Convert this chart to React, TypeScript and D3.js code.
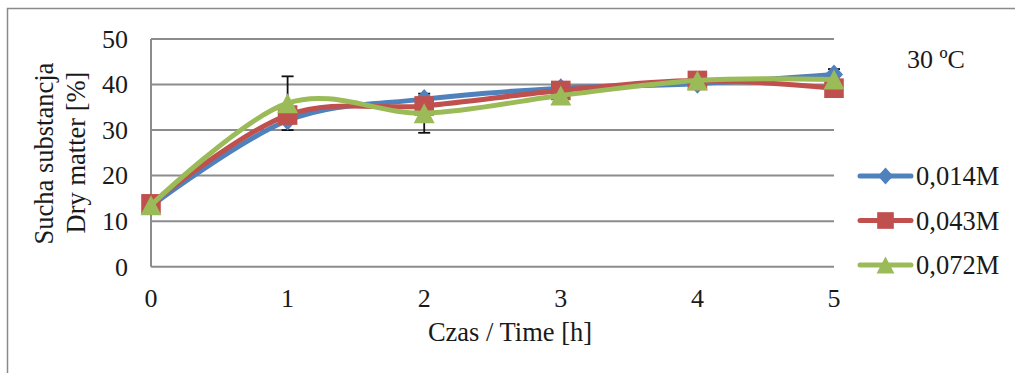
import React from "react";
import * as d3 from "d3";

const times = [0, 1, 2, 3, 4, 5];
const yTicks = [0, 10, 20, 30, 40, 50];
const seriesNames = ["0,014M", "0,043M", "0,072M"];
const blueValues = [13.3, 32.1, 36.8, 39.2, 40.2, 42.2];
const redValues = [13.8, 33.3, 35.3, 38.7, 40.9, 39.2];
const greenValues = [13.5, 35.9, 33.7, 37.6, 40.9, 41.1];
const blueErrors = [0.3, 0.5, 0.6, 0.5, 0.3, 1.2];
const redErrors = [0.3, 0.5, 0.5, 0.5, 0.5, 0.5];
const greenErrors = [0.4, 5.9, 4.3, 0.5, 0.5, 0.5];
const colors = ["#4F81BD", "#C0504D", "#9BBB59"];
const markers = ["diamond", "square", "triangle"];

const FONT = "'Liberation Serif', 'Times New Roman', serif";

function markerPath(kind: string, cx: number, cy: number, k: number): string {
  if (kind === "diamond") {
    const w = 9 * k, h = 10 * k;
    return `M${cx},${cy - h} L${cx + w},${cy} L${cx},${cy + h} L${cx - w},${cy} Z`;
  }
  if (kind === "square") {
    const s = 9.8 * k;
    return `M${cx - s},${cy - s} h${2 * s} v${2 * s} h${-2 * s} Z`;
  }
  const w = 10.5 * k, h = 10 * k;
  return `M${cx},${cy - h} L${cx + w},${cy + h} L${cx - w},${cy + h} Z`;
}

export default function App() {
  const x = d3.scaleLinear().domain([0, 5]).range([151, 834]);
  const y = d3.scaleLinear().domain([0, 50]).range([266.7, 39]);
  const line = d3
    .line<number>()
    .x((_, i) => x(times[i]))
    .y((d) => y(d))
    .curve(d3.curveCardinal.tension(0));

  const values = [blueValues, redValues, greenValues];
  const errors = [blueErrors, redErrors, greenErrors];
  const legendY = [176, 220.5, 265];

  return (
    <svg
      width={1015}
      height={373}
      style={{ position: "absolute", left: 0, top: 0 }}
      fontFamily={FONT}
    >
      <rect x={0} y={0} width={1015} height={373} fill="#fff" />
      <rect x={7.5} y={8.5} width={1020} height={380} fill="none" stroke="#8a8a8a" strokeWidth={1.5} />

      {/* gridlines */}
      {yTicks.map((t) => (
        <line key={t} x1={151} x2={834} y1={y(t)} y2={y(t)} stroke="#8c8c8c" strokeWidth={2} />
      ))}
      <line x1={151} x2={151} y1={y(50)} y2={y(0)} stroke="#8c8c8c" strokeWidth={2} />

      {/* y tick labels */}
      {yTicks.map((t) => (
        <text key={t} x={128} y={y(t)} dy="0.34em" textAnchor="end" fontSize={26} fill="#1a1a1a">
          {t}
        </text>
      ))}
      {/* x tick labels */}
      {times.map((t) => (
        <text key={t} x={x(t)} y={306.5} textAnchor="middle" fontSize={26} fill="#1a1a1a">
          {t}
        </text>
      ))}

      <text x={510} y={340.5} textAnchor="middle" fontSize={26.5} fill="#1a1a1a">
        Czas / Time [h]
      </text>
      <text transform="translate(53,153.5) rotate(-90)" textAnchor="middle" fontSize={26.5} fill="#1a1a1a">
        Sucha substancja
      </text>
      <text transform="translate(85,152.5) rotate(-90)" textAnchor="middle" fontSize={26.5} fill="#1a1a1a">
        Dry matter [%]
      </text>

      {/* error bars */}
      {values.map((vals, s) =>
        vals.map((v, i) => {
          const e = errors[s][i];
          const cx = x(times[i]);
          return (
            <g key={`e${s}-${i}`} stroke="#111" strokeWidth={1.8}>
              <line x1={cx} x2={cx} y1={y(v + e)} y2={y(v - e)} />
              <line x1={cx - 6} x2={cx + 6} y1={y(v + e)} y2={y(v + e)} />
              <line x1={cx - 6} x2={cx + 6} y1={y(v - e)} y2={y(v - e)} />
            </g>
          );
        })
      )}

      {/* series */}
      {values.map((vals, s) => (
        <g key={`s${s}`}>
          <path d={line(vals) || ""} fill="none" stroke={colors[s]} strokeWidth={5} strokeLinecap="round" strokeLinejoin="round" />
          {vals.map((v, i) => (
            <path key={i} d={markerPath(markers[s], x(times[i]), y(v), 1)} fill={colors[s]} />
          ))}
        </g>
      ))}

      <text x={907} y={68} fontSize={26} fill="#1a1a1a">
        30 ºC
      </text>

      {/* legend */}
      {seriesNames.map((name, s) => (
        <g key={name}>
          <line x1={860} x2={911} y1={legendY[s]} y2={legendY[s]} stroke={colors[s]} strokeWidth={5} strokeLinecap="round" />
          <path d={markerPath(markers[s], 885.5, legendY[s], 0.85)} fill={colors[s]} />
          <text x={916} y={legendY[s]} dy="0.34em" fontSize={26.5} fill="#1a1a1a">
            {name}
          </text>
        </g>
      ))}
    </svg>
  );
}
